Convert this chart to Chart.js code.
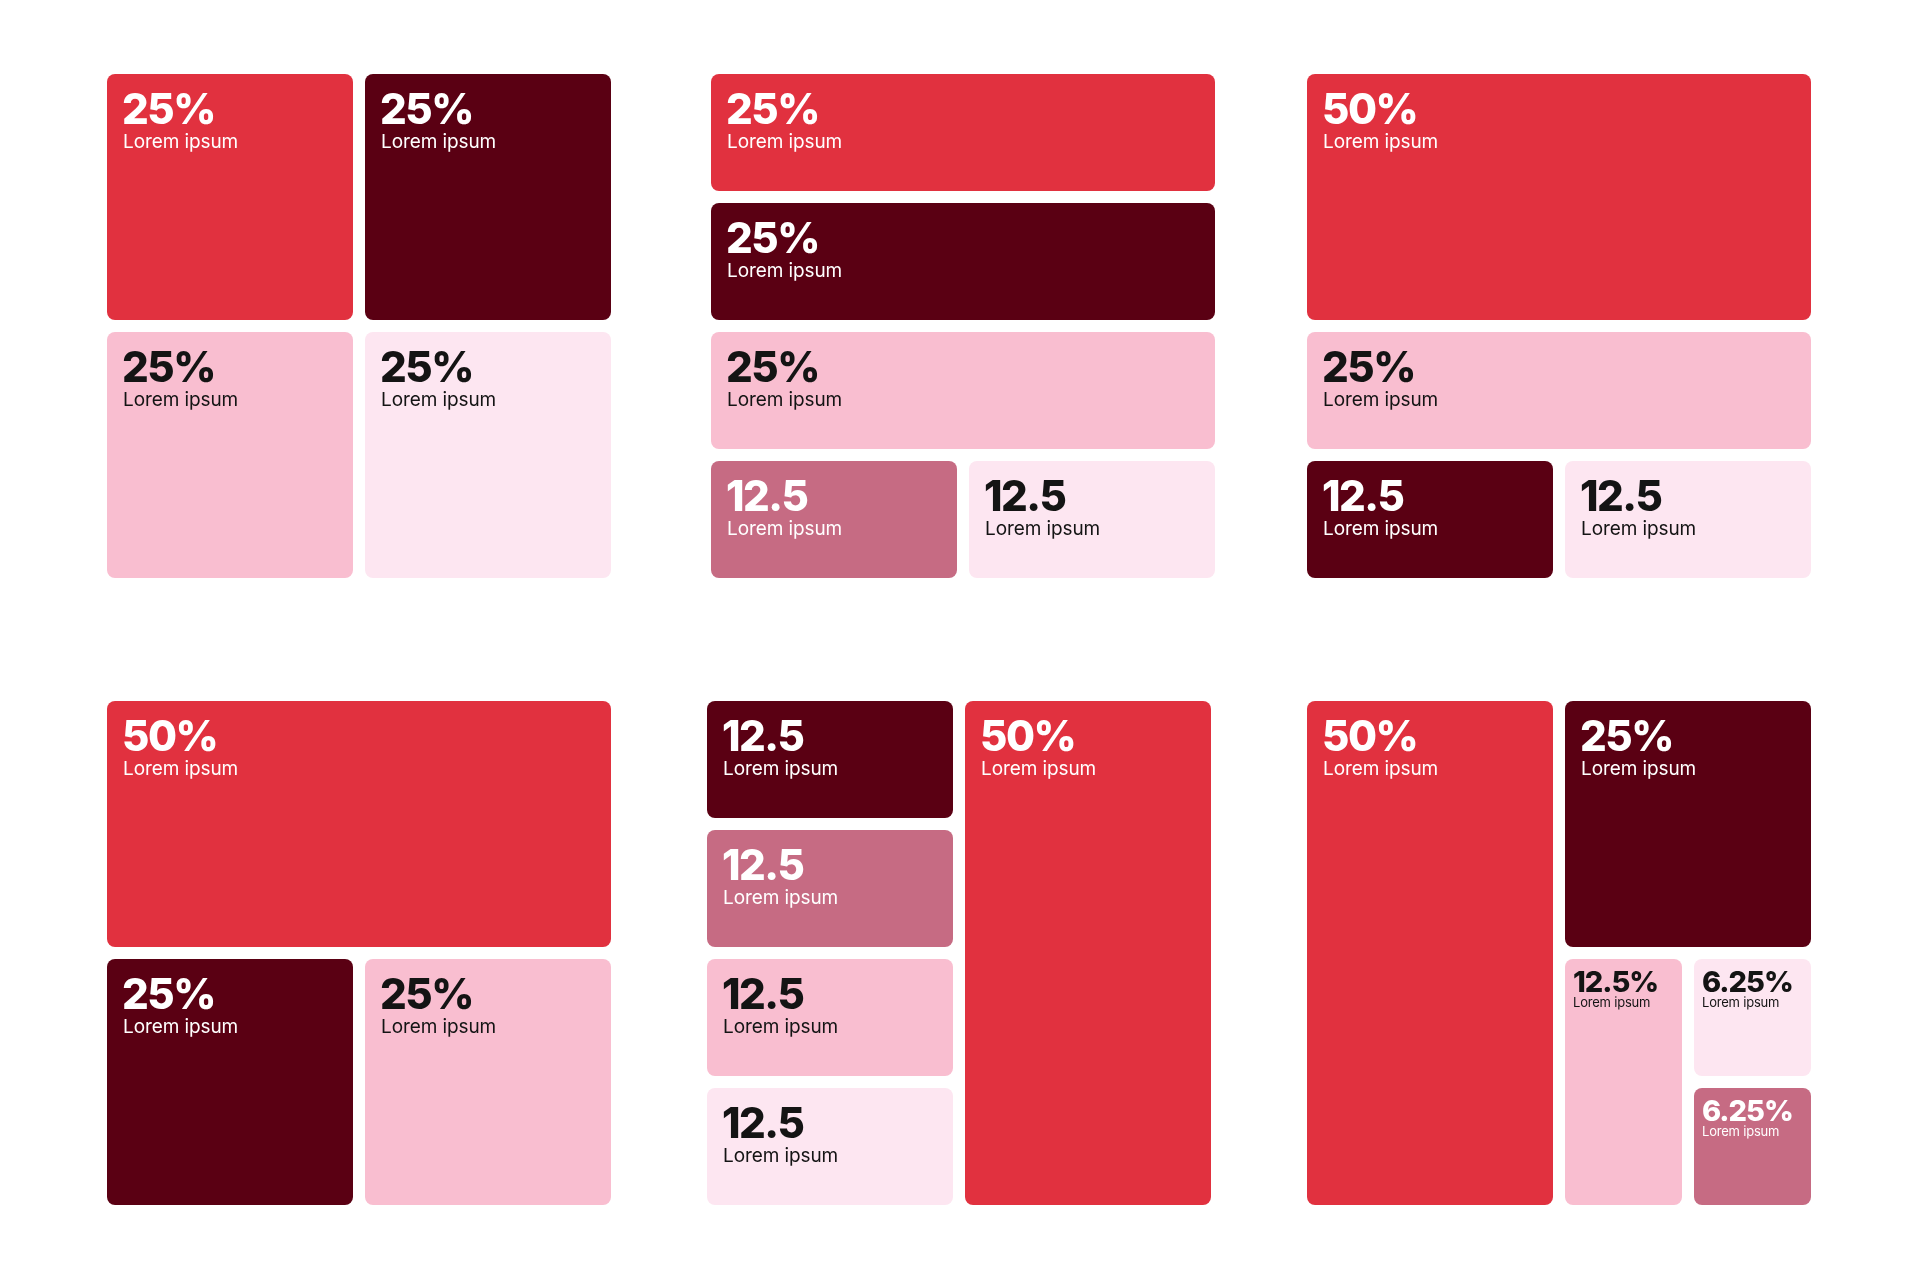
<!DOCTYPE html>
<html>
<head>
<meta charset="utf-8">
<script src="https://cdn.jsdelivr.net/npm/chart.js@4.4.1/dist/chart.umd.min.js"></script>
<style>
  html, body { margin: 0; padding: 0; background: #ffffff; }
  body { width: 1920px; height: 1279px; position: relative; overflow: hidden; }
  .panel { position: absolute; width: 516px; height: 516px; }
</style>
</head>
<body>
<div class="panel" style="left:101px;top:68px"><canvas id="p1"></canvas></div>
<div class="panel" style="left:705px;top:68px"><canvas id="p2"></canvas></div>
<div class="panel" style="left:1301px;top:68px"><canvas id="p3"></canvas></div>
<div class="panel" style="left:101px;top:695px"><canvas id="p4"></canvas></div>
<div class="panel" style="left:701px;top:695px"><canvas id="p5"></canvas></div>
<div class="panel" style="left:1301px;top:695px"><canvas id="p6"></canvas></div>
<script>
var RED = "#E1313F", DARK = "#5A0013", PINK = "#F9BED0", LIGHT = "#FDE6F1", MAUVE = "#C66B83";

// panel data: values, shown text, names, and how the box is split (h = side by side, v = stacked)
var panel1Values = [25, 25, 25, 25];
var panel1Text = ["25%", "25%", "25%", "25%"];
var panel1Names = ["Lorem ipsum", "Lorem ipsum", "Lorem ipsum", "Lorem ipsum"];
var panel1Colors = [RED, PINK, DARK, LIGHT];
var panel1Split = ["h", ["v", 0, 1], ["v", 2, 3]];

var panel2Values = [25, 25, 25, 12.5, 12.5];
var panel2Text = ["25%", "25%", "25%", "12.5", "12.5"];
var panel2Names = ["Lorem ipsum", "Lorem ipsum", "Lorem ipsum", "Lorem ipsum", "Lorem ipsum"];
var panel2Colors = [RED, DARK, PINK, MAUVE, LIGHT];
var panel2Split = ["v", 0, 1, 2, ["h", 3, 4]];

var panel3Values = [50, 25, 12.5, 12.5];
var panel3Text = ["50%", "25%", "12.5", "12.5"];
var panel3Names = ["Lorem ipsum", "Lorem ipsum", "Lorem ipsum", "Lorem ipsum"];
var panel3Colors = [RED, PINK, DARK, LIGHT];
var panel3Split = ["v", 0, 1, ["h", 2, 3]];

var panel4Values = [50, 25, 25];
var panel4Text = ["50%", "25%", "25%"];
var panel4Names = ["Lorem ipsum", "Lorem ipsum", "Lorem ipsum"];
var panel4Colors = [RED, DARK, PINK];
var panel4Split = ["v", 0, ["h", 1, 2]];

var panel5Values = [12.5, 12.5, 12.5, 12.5, 50];
var panel5Text = ["12.5", "12.5", "12.5", "12.5", "50%"];
var panel5Names = ["Lorem ipsum", "Lorem ipsum", "Lorem ipsum", "Lorem ipsum", "Lorem ipsum"];
var panel5Colors = [DARK, MAUVE, PINK, LIGHT, RED];
var panel5Split = ["h", ["v", 0, 1, 2, 3], 4];

var panel6Values = [50, 25, 12.5, 6.25, 6.25];
var panel6Text = ["50%", "25%", "12.5%", "6.25%", "6.25%"];
var panel6Names = ["Lorem ipsum", "Lorem ipsum", "Lorem ipsum", "Lorem ipsum", "Lorem ipsum"];
var panel6Colors = [RED, DARK, PINK, LIGHT, MAUVE];
var panel6Split = ["h", 0, ["v", 1, ["h", 2, ["v", 3, 4]]]];

var GAP = 12;

function weight(node, values) {
    if (typeof node === "number") return values[node];
    return node.slice(1).reduce(function (s, n) { return s + weight(n, values); }, 0);
}

// slice and dice: share of the box goes by summed value
function layout(node, values, x0, y0, x1, y1, out) {
    if (typeof node === "number") {
        out[node] = { x0: x0, y0: y0, x1: x1, y1: y1 };
        return;
    }
    var dir = node[0];
    var total = weight(node, values);
    var pos = dir === "h" ? x0 : y0;
    node.slice(1).forEach(function (k) {
        var span = (dir === "h" ? x1 - x0 : y1 - y0) * weight(k, values) / total;
        if (dir === "h") layout(k, values, pos, y0, pos + span, y1, out);
        else layout(k, values, x0, pos, x1, pos + span, out);
        pos += span;
    });
}

function isDarkBg(c) {
    return c === RED || c === DARK || c === MAUVE;
}

function makePanel(id, values, texts, names, colors, split) {
    var rects = [];
    layout(split, values, 0, 0, 1, 1, rects);

    var cells = {
        id: "cells",
        afterDatasetsDraw: function (chart) {
            var ctx = chart.ctx, xs = chart.scales.x, ys = chart.scales.y;
            rects.forEach(function (r, i) {
                var left = xs.getPixelForValue(r.x0) + GAP / 2;
                var right = xs.getPixelForValue(r.x1) - GAP / 2;
                var top = ys.getPixelForValue(r.y0) + GAP / 2;
                var bottom = ys.getPixelForValue(r.y1) - GAP / 2;
                var bar = new Chart.BarElement({
                    x: (left + right) / 2, y: top, base: bottom,
                    width: right - left, height: bottom - top,
                    horizontal: false, enableBorderRadius: true,
                    borderSkipped: {}, inflateAmount: 0,
                    options: { backgroundColor: colors[i], borderColor: colors[i], borderWidth: 0, borderRadius: 8 }
                });
                bar.draw(ctx);

                var small = (right - left) < 150;
                ctx.save();
                ctx.fillStyle = isDarkBg(colors[i]) ? "#ffffff" : "#141414";
                ctx.textAlign = "left";
                ctx.textBaseline = "alphabetic";
                if (small) {
                    ctx.font = "800 29px Inter";
                    ctx.letterSpacing = "-1px";
                    ctx.fillText(texts[i], left + 8, top + 33);
                    ctx.font = "400 13px Inter";
                    ctx.letterSpacing = "-0.2px";
                    ctx.fillText(names[i], left + 8, top + 48);
                } else {
                    ctx.font = "800 42px Inter";
                    ctx.letterSpacing = "-1.5px";
                    ctx.fillText(texts[i], left + 15, top + 50);
                    ctx.font = "400 19px Inter";
                    ctx.letterSpacing = "-0.1px";
                    ctx.fillText(names[i], left + 16, top + 74);
                }
                ctx.restore();
            });
        }
    };

    return new Chart(id, {
        type: "scatter",
        data: { datasets: [] },
        options: {
            responsive: true,
            maintainAspectRatio: false,
            animation: false,
            events: [],
            layout: { padding: 0 },
            plugins: { legend: { display: false }, tooltip: { enabled: false } },
            scales: {
                x: { type: "linear", min: 0, max: 1, display: false },
                y: { type: "linear", min: 0, max: 1, reverse: true, display: false }
            }
        },
        plugins: [cells]
    });
}

makePanel("p1", panel1Values, panel1Text, panel1Names, panel1Colors, panel1Split);
makePanel("p2", panel2Values, panel2Text, panel2Names, panel2Colors, panel2Split);
makePanel("p3", panel3Values, panel3Text, panel3Names, panel3Colors, panel3Split);
makePanel("p4", panel4Values, panel4Text, panel4Names, panel4Colors, panel4Split);
makePanel("p5", panel5Values, panel5Text, panel5Names, panel5Colors, panel5Split);
makePanel("p6", panel6Values, panel6Text, panel6Names, panel6Colors, panel6Split);
</script>
</body>
</html>
